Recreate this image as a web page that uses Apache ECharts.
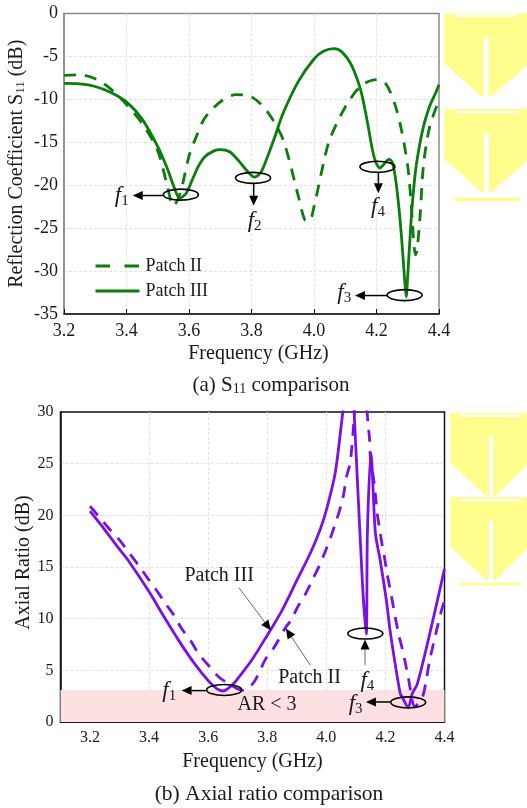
<!DOCTYPE html>
<html>
<head>
<meta charset="utf-8">
<style>html,body{margin:0;padding:0;background:#fff}#chart{width:527px;height:808px}</style>
<script src="https://cdn.jsdelivr.net/npm/echarts@6/dist/echarts.min.js"></script>
</head>
<body>
<div id="chart"></div>
<script type="text/javascript">
// S11 curves, [GHz, dB]
var s11Patch2 = [[3.2,-7.2],[3.25,-7.15],[3.3,-7.6],[3.35,-8.8],[3.4,-10.6],[3.45,-12.8],[3.5,-16],[3.53,-20],[3.55,-22.4],[3.565,-21.6],[3.58,-19.8],[3.6,-16.6],[3.625,-14.2],[3.65,-12.2],[3.7,-10.3],[3.75,-9.45],[3.8,-9.7],[3.85,-11.4],[3.9,-14.6],[3.95,-21.3],[3.97,-24],[3.985,-24.2],[4.0,-22.5],[4.03,-17.5],[4.05,-14.7],[4.1,-10.9],[4.15,-8.45],[4.2,-7.7],[4.23,-8.2],[4.26,-10.7],[4.28,-13.6],[4.3,-17.8],[4.31,-21.7],[4.325,-28.1],[4.33,-27.5],[4.34,-23.3],[4.35,-17.8],[4.37,-13.2],[4.4,-10.1]];
var s11Patch3 = [[3.2,-8.15],[3.25,-8.2],[3.3,-8.5],[3.35,-9.2],[3.4,-10.3],[3.45,-12.3],[3.5,-15.5],[3.53,-18],[3.55,-20],[3.57,-21.5],[3.59,-21],[3.61,-19.4],[3.63,-17.8],[3.65,-16.7],[3.68,-16],[3.7,-15.85],[3.73,-16.1],[3.76,-17.2],[3.79,-18.5],[3.81,-19.05],[3.83,-18.5],[3.85,-16.8],[3.88,-13.8],[3.9,-11.7],[3.95,-7.9],[4.0,-5.3],[4.03,-4.4],[4.065,-4.1],[4.09,-4.5],[4.12,-6],[4.15,-9],[4.17,-12.5],[4.19,-16.4],[4.2,-17.5],[4.21,-18],[4.22,-17.7],[4.24,-17],[4.25,-17.3],[4.26,-19],[4.27,-22],[4.28,-26],[4.29,-31],[4.295,-33],[4.3,-30.5],[4.31,-24.5],[4.32,-20],[4.33,-17],[4.35,-13.2],[4.37,-10.8],[4.39,-9.2],[4.4,-8.3]];

// axial ratio curves, [GHz, dB]
var arPatch2 = [[3.2,20.9],[3.267,18.63],[3.302,17.53],[3.334,16.3],[3.364,15.18],[3.396,13.88],[3.425,12.75],[3.453,11.56],[3.484,10.33],[3.51,9.04],[3.541,7.85],[3.567,6.62],[3.601,5.49],[3.636,4.36],[3.67,3.71],[3.7,3.2],[3.721,3.07],[3.755,3.87],[3.795,6.13],[3.824,7.26],[3.863,9.2],[3.881,9.85],[3.903,11.14],[3.93,12.43],[3.955,13.88],[3.977,15.18],[3.998,16.63],[4.017,18.08],[4.034,19.5],[4.048,20.8],[4.059,22.1],[4.068,23.7],[4.08,25],[4.086,26.5],[4.091,28.2],[4.094,29.5],[4.1,31.5],[4.12,34],[4.135,31],[4.141,28.9],[4.146,27.5],[4.149,25.7],[4.163,22.9],[4.167,21.7],[4.173,20],[4.18,18.8],[4.189,17.1],[4.197,15.9],[4.206,14.3],[4.215,13],[4.244,8.56],[4.257,7.1],[4.268,5.65],[4.277,4.36],[4.3,1.5],[4.325,2.4],[4.336,3.7],[4.35,6],[4.376,9.2],[4.387,10.5],[4.4,11.8]];
var arPatch3 = [[3.2,20.4],[3.25,18.6],[3.3,16.7],[3.33,15.6],[3.4,12.6],[3.45,10.2],[3.5,7.9],[3.55,5.8],[3.6,4],[3.63,3.2],[3.65,3],[3.68,3.55],[3.7,4.2],[3.75,6.1],[3.8,8.4],[3.85,10.8],[3.9,13.7],[3.95,16.6],[3.98,18.7],[4.0,20.5],[4.03,24.1],[4.05,28.6],[4.06,31],[4.075,34],[4.09,31],[4.094,30],[4.122,13.5],[4.135,8.5],[4.139,18.3],[4.151,26],[4.166,18.3],[4.182,15.7],[4.203,11.8],[4.217,8.6],[4.25,2.75],[4.257,2.4],[4.277,1.45],[4.291,2.75],[4.308,3.7],[4.353,8.9],[4.4,14.8]];

var xTicksB = [3.2,3.4,3.6,3.8,4.0,4.2,4.4];
var arLimit = 3.1;

// annotations: ellipse [x, y], arrow [x0, y0, x1, y1], label [x, y]
var ringsA = [[3.574,-21.1],[3.805,-19.15],[4.203,-17.85],[4.29,-32.8]];
var arrowsA = [[3.519,-21.2,3.42,-21.2],[3.807,-19.8,3.807,-22.4],[4.206,-18.5,4.206,-20.95],[4.237,-32.85,4.131,-32.85]];
var labelsA = [[3.385,-21.3],[3.81,-24.2],[4.205,-22.5],[4.097,-32.6]];
var labelTextA = ['{i|f}{s|1}','{i|f}{s|2}','{i|f}{s|4}','{i|f}{s|3}'];

var ringsB = [[3.654,3.1],[4.132,8.56],[4.277,1.9]];
var arrowsB = [[3.592,3.04,3.51,3.04],[4.131,5.49,4.131,7.98],[4.217,1.94,4.134,1.94],[3.704,13.0,3.812,8.88],[3.946,5.49,3.863,9.04]];
var labelsB = [[3.468,2.97],[4.139,3.97],[4.099,1.7],[3.637,14.2],[3.943,4.3],[3.799,1.7]];
var labelTextB = ['{i|f}{s|1}','{i|f}{s|4}','{i|f}{s|3}','{t|Patch III}','{t|Patch II}','{t|AR < 3}'];

var green = '#0a7d0a', purple = '#7a10e6', yellow = '#fffd8c', ink = '#1a1a1a';
var serif = '"Liberation Serif", serif';

var richText = {
	i: {fontFamily: serif, fontStyle: 'italic', fontSize: 23, fill: ink, color: ink},
	s: {fontFamily: serif, fontSize: 15, fill: ink, color: ink, verticalAlign: 'bottom', padding: [10,0,0,0]},
	t: {fontFamily: serif, fontSize: 20, fill: ink, color: ink}
};

function curve(name, data, color, dashed, xi) {
	return {
		name: name, type: 'line', xAxisIndex: xi, yAxisIndex: xi, data: data,
		symbol: 'none', smooth: 0.3,
		lineStyle: {color: color, width: 2.8, type: dashed ? [12,9] : 'solid'},
		itemStyle: {color: color}
	};
}

function ringSeries(data, xi) {
	return {
		type: 'custom', xAxisIndex: xi, yAxisIndex: xi, data: data, clip: false, z: 5,
		renderItem: function(params, api) {
			var p = api.coord([api.value(0), api.value(1)]);
			return {type: 'ellipse', shape: {cx: p[0], cy: p[1], rx: 17.5, ry: 5.5},
				style: {fill: 'none', stroke: '#000', lineWidth: 1.6}};
		}
	};
}

function arrowSeries(data, xi) {
	return {
		type: 'custom', xAxisIndex: xi, yAxisIndex: xi, data: data, clip: false, z: 5,
		encode: {x: [0,2], y: [1,3]},
		renderItem: function(params, api) {
			var a = api.coord([api.value(0), api.value(1)]);
			var b = api.coord([api.value(2), api.value(3)]);
			var dx = b[0]-a[0], dy = b[1]-a[1], len = Math.sqrt(dx*dx+dy*dy);
			var ux = dx/len, uy = dy/len, hl = 10, hw = 4.5;
			var base = [b[0]-ux*hl, b[1]-uy*hl];
			// the long leader lines in plot b are thin
			var thin = xi == 1 && params.dataIndex != 0 && params.dataIndex != 2;
			return {type: 'group', children: [
				{type: 'line', shape: {x1: a[0], y1: a[1], x2: base[0], y2: base[1]},
					style: {stroke: thin ? '#444' : '#000', lineWidth: thin ? 0.8 : 1.5}},
				{type: 'polygon', shape: {points: [b, [base[0]-uy*hw, base[1]+ux*hw], [base[0]+uy*hw, base[1]-ux*hw]]},
					style: {fill: '#000'}}
			]};
		}
	};
}

function labelSeries(data, texts, xi) {
	return {
		type: 'custom', xAxisIndex: xi, yAxisIndex: xi, data: data, clip: false, z: 6,
		renderItem: function(params, api) {
			var p = api.coord([api.value(0), api.value(1)]);
			return {type: 'text', style: {x: p[0], y: p[1], text: texts[params.dataIndex], rich: richText,
				align: 'center', verticalAlign: 'middle'}};
		}
	};
}

// little yellow patch drawing beside the plots
function patch(out, left, top, slotL, slotR, slitL, slitR, slitY) {
	var bottom = top+83, shoulder = top+50;
	out.push({type: 'polygon', silent: true, shape: {points: [[left,top],[527,top],[527,shoulder+2],[slotR+2.5,bottom],[slotR,bottom],[slotR,top+24],[slotL,top+24],[slotL,bottom],[slotL-2.5,bottom],[left,shoulder]]}, style: {fill: yellow}});
	out.push({type: 'rect', silent: true, shape: {x: slitL, y: slitY, width: slitR-slitL, height: 2.3}, style: {fill: '#fff'}});
}

var drawings = [];
patch(drawings, 444.4, 13.5, 483.6, 488.6, 454, 517, 14.6);
patch(drawings, 444.4, 109, 484, 489, 455, 518, 111);
drawings.push({type: 'rect', silent: true, shape: {x: 454, y: 197.5, width: 65, height: 3.6}, style: {fill: yellow}});
patch(drawings, 450.3, 413, 489, 493.2, 460, 521.7, 414.6);
patch(drawings, 450.3, 497, 489, 493.2, 460, 521.7, 499);
drawings.push({type: 'rect', silent: true, shape: {x: 459.3, y: 583, width: 62.4, height: 2.8}, style: {fill: yellow}});

var splitDash = {show: true, showMinLine: false, showMaxLine: false, lineStyle: {color: '#e2e2e2', type: [3,2], width: 1}};
var fmt1 = function(v){ return v.toFixed(1); };
var nameRich = {
	n: {fontFamily: serif, fontSize: 20, fontWeight: 'normal', color: ink},
	s: {fontFamily: serif, fontSize: 13, fontWeight: 'normal', color: ink, verticalAlign: 'bottom', padding: [7,0,0,0]}
};
var captionRich = {
	n: {fontFamily: serif, fontSize: 21, fontWeight: 'normal', color: ink},
	s: {fontFamily: serif, fontSize: 14, fontWeight: 'normal', color: ink, verticalAlign: 'bottom', padding: [7,0,0,0]}
};

var option = {
	animation: false,
	backgroundColor: '#fff',
	textStyle: {fontFamily: serif},
	title: [
		{text: '{n|(a) S}{s|11}{n| comparison}', left: 266, top: 370, textAlign: 'center', textStyle: {fontWeight: 'normal', rich: captionRich}},
		{text: '(b) Axial ratio comparison', left: 264, top: 778, textAlign: 'center', textStyle: {fontFamily: serif, fontSize: 21.5, fontWeight: 'normal', color: ink}}
	],
	legend: {
		data: [
			{name: 'Patch II', lineStyle: {type: [14.5,14.5], width: 3}},
			{name: 'Patch III', lineStyle: {width: 3}}
		],
		orient: 'vertical', left: 89, top: 252, itemWidth: 44, itemHeight: 12, itemGap: 7,
		itemStyle: {opacity: 0},
		selectedMode: false, textStyle: {fontFamily: serif, fontSize: 18, color: ink, padding: [0,0,0,1]}
	},
	grid: [
		{left: 64, top: 13.5, width: 375, height: 300.5, show: true, borderColor: '#8a8a8a', borderWidth: 1.5, backgroundColor: 'transparent', outerBoundsMode: 'none'},
		{left: 60.5, top: 412, width: 384, height: 310, show: true, borderColor: '#111', borderWidth: 1.5, backgroundColor: 'transparent', outerBoundsMode: 'none'}
	],
	xAxis: [
		{gridIndex: 0, type: 'value', min: 3.2, max: 4.4, interval: 0.2, name: 'Frequency (GHz)', nameLocation: 'middle', nameGap: 30, nameMoveOverlap: false,
			nameTextStyle: {fontFamily: serif, fontSize: 20, color: ink, padding: [0,0,0,14]},
			axisLine: {onZero: false, lineStyle: {color: '#111', width: 1.5}},
			axisTick: {show: true, inside: true, length: 5, lineStyle: {color: '#111'}},
			axisLabel: {fontFamily: serif, fontSize: 18, color: ink, margin: 8, formatter: fmt1},
			splitLine: splitDash},
		{gridIndex: 1, type: 'value', min: 3.1, max: 4.4, name: 'Frequency (GHz)', nameLocation: 'middle', nameGap: 30, nameMoveOverlap: false,
			nameTextStyle: {fontFamily: serif, fontSize: 20, color: ink},
			axisLine: {onZero: false, lineStyle: {color: '#111', width: 1.5}},
			axisTick: {show: false, customValues: xTicksB},
			axisLabel: {fontFamily: serif, fontSize: 16, color: ink, margin: 8, customValues: xTicksB, formatter: fmt1},
			splitLine: splitDash}
	],
	yAxis: [
		{gridIndex: 0, type: 'value', min: -35, max: 0, interval: 5, name: '{n|Reflection Coefficient S}{s|11}{n| (dB)}', nameLocation: 'middle', nameGap: 37, nameMoveOverlap: false,
			nameTextStyle: {rich: nameRich},
			axisLine: {onZero: false, lineStyle: {color: '#8a8a8a', width: 1.5}},
			axisTick: {show: false},
			axisLabel: {fontFamily: serif, fontSize: 18, color: ink, margin: 6},
			splitLine: splitDash},
		{gridIndex: 1, type: 'value', min: 0, max: 30, interval: 5, name: 'Axial Ratio (dB)', nameLocation: 'middle', nameGap: 27, nameMoveOverlap: false,
			nameTextStyle: {fontFamily: serif, fontSize: 20, color: ink, padding: [0,0,0,9]},
			axisLine: {onZero: false, lineStyle: {color: '#111', width: 1.5}},
			axisTick: {show: false},
			axisLabel: {fontFamily: serif, fontSize: 16, color: ink, margin: 7},
			splitLine: splitDash}
	],
	graphic: drawings,
	series: [
		curve('Patch II', s11Patch2, green, true, 0),
		curve('Patch III', s11Patch3, green, false, 0),
		ringSeries(ringsA, 0),
		arrowSeries(arrowsA, 0),
		labelSeries(labelsA, labelTextA, 0),
		{
			name: 'AR band', type: 'line', xAxisIndex: 1, yAxisIndex: 1, data: [], silent: true,
			markArea: {silent: true, itemStyle: {color: '#fde0e1'}, data: [[{xAxis: 3.1, yAxis: 0},{xAxis: 4.4, yAxis: arLimit}]]}
		},
		curve('AR Patch II', arPatch2, purple, true, 1),
		curve('AR Patch III', arPatch3, purple, false, 1),
		ringSeries(ringsB, 1),
		arrowSeries(arrowsB, 1),
		labelSeries(labelsB, labelTextB, 1)
	]
};

var chart = echarts.init(document.getElementById('chart'), null, {renderer: 'canvas'});
chart.setOption(option);
</script>
</body>
</html>
